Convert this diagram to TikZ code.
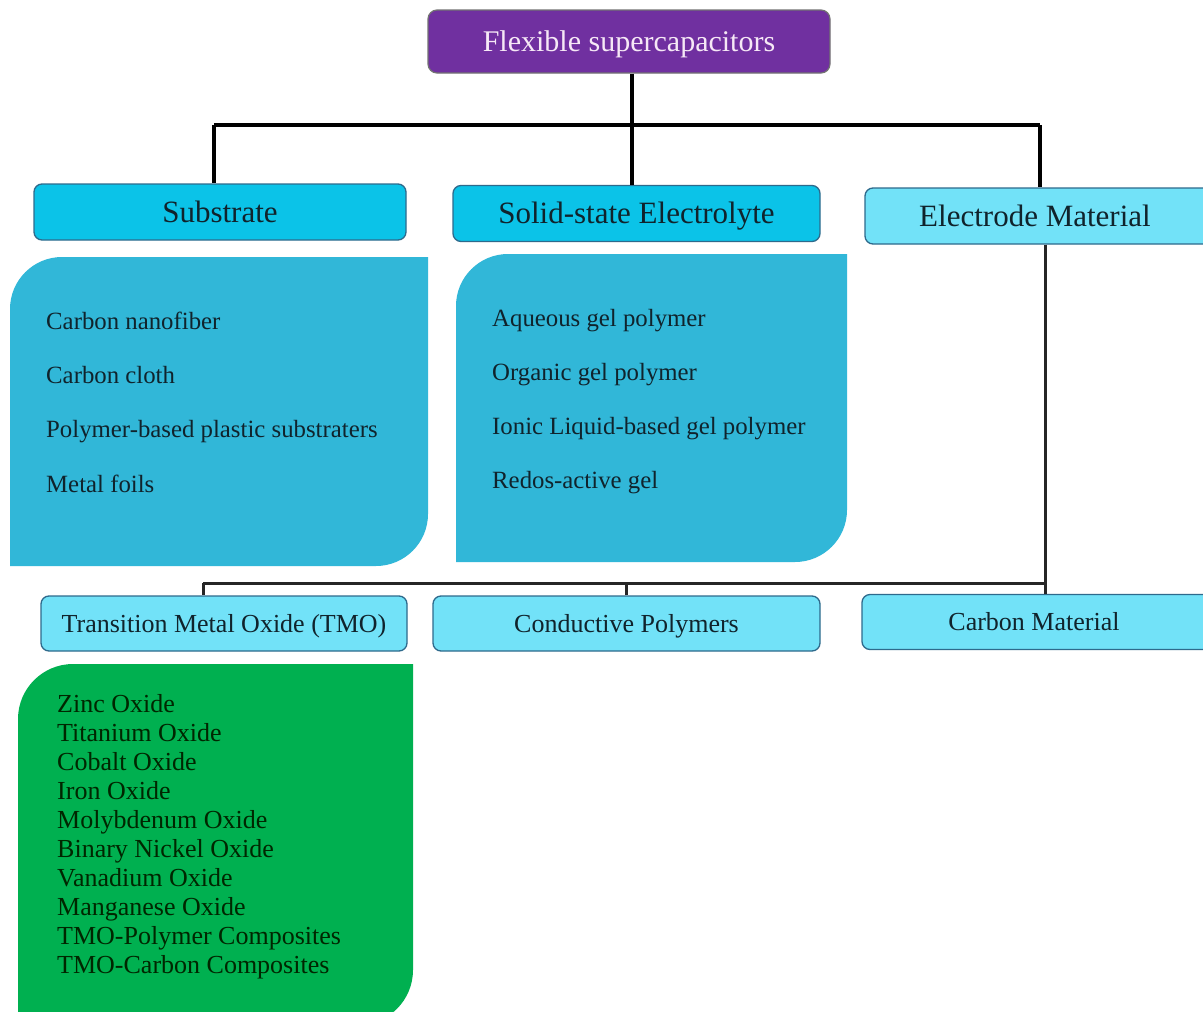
\documentclass[tikz,border=0pt]{standalone}
\usepackage{fontspec}
\setmainfont{Liberation Serif}
\definecolor{purplebox}{HTML}{7030A0}
\definecolor{cyanA}{HTML}{0BC3E8}
\definecolor{cyanB}{HTML}{72E2F8}
\definecolor{panelblue}{HTML}{31B7D8}
\definecolor{panelgreen}{HTML}{00B050}
\definecolor{boxborder}{HTML}{2E6A8C}
\definecolor{txtdark}{HTML}{10232C}
\definecolor{toptxt}{HTML}{F6E8F6}
\newcommand{\mypanel}[6]{%
  \fill[#1] (#2,#5) -- (#2,#3+#6) .. controls (#2,#3+0.448*#6) and (#2+0.448*#6,#3) .. (#2+#6,#3)
    -- (#4,#3) -- (#4,#5-#6) .. controls (#4,#5-0.448*#6) and (#4-0.448*#6,#5) .. (#4-#6,#5) -- cycle;}
\tikzset{
  topbox/.style={draw=black!55, line width=1.2pt, fill=purplebox, rounded corners=9pt,
    minimum width=402pt, minimum height=63pt, inner sep=0pt, text=toptxt,
    font=\fontsize{30}{36}\selectfont, text height=23pt, text depth=4pt},
  boxA/.style={draw=boxborder, line width=1.3pt, fill=cyanA, rounded corners=8pt,
    minimum height=56pt, inner sep=0pt, text=txtdark, font=\fontsize{31}{37}\selectfont,
    text height=24pt, text depth=4pt},
  boxB/.style={draw=boxborder, line width=1.3pt, fill=cyanB, rounded corners=8pt,
    minimum height=56pt, inner sep=0pt, text=txtdark, font=\fontsize{31}{37}\selectfont,
    text height=24pt, text depth=4pt},
  boxC/.style={draw=boxborder, line width=1.3pt, fill=cyanB, rounded corners=8pt,
    minimum height=55pt, inner sep=0pt, text=txtdark, font=\fontsize{26}{31}\selectfont,
    text height=20pt, text depth=3pt},
  item/.style={anchor=base west, inner sep=0pt, text=txtdark, font=\fontsize{24.8}{30}\selectfont},
  gitem/.style={anchor=base west, inner sep=0pt, text=black!85!green, font=\fontsize{26}{30}\selectfont},
  conn/.style={line width=3.3pt, draw=black},
  conn2/.style={line width=3pt, draw=black!85},
}
\begin{document}
\begin{tikzpicture}[x=1pt,y=-1pt]
\useasboundingbox (0,0) rectangle (1203,1012);
\clip (0,0) rectangle (1203,1012);
\fill[white] (0,0) rectangle (1203,1012);

% panels
\mypanel{panelblue}{10}{257}{428}{566}{52}
\mypanel{panelblue}{456}{254}{847}{562}{52}
\mypanel{panelgreen}{18}{664}{413}{1025}{55}

\coordinate (tw) at (214,125);
\coordinate (te) at (1040,125);
\coordinate (bw) at (203,583);
\coordinate (be) at (1045,583);

% boxes
\node[topbox] (top) at (629,41.5) {Flexible supercapacitors};
\node[boxA, minimum width=372pt] (sub) at (220,212) {Substrate};
\node[boxA, minimum width=367pt] (sse) at (636.5,213.5) {Solid-state Electrolyte};
\node[boxB, minimum width=346pt] (em) at (1038,216) {\hspace*{-6pt}Electrode Material};
\node[boxC, minimum width=366pt] (tmo) at (224,623.5) {Transition Metal Oxide (TMO)};
\node[boxC, minimum width=387pt] (cp) at (626.5,623.5) {Conductive Polymers};
\node[boxC, minimum width=356pt] (cm) at (1040,622) {\hspace*{-12pt}Carbon Material};

% connectors
\draw[conn] (top.south -| 632,0) -- (632,125);
\draw[conn] (tw) -- (te);
\draw[conn] (tw) -- (tw |- sub.north);
\draw[conn] (sse.north -| 632,0) -- (632,125);
\draw[conn] (te) -- (te |- em.north);
\draw[conn2] (em.south -| be) -- (be);
\draw[conn2] (be) -- (bw);
\draw[conn2] (bw) -- (bw |- tmo.north);
\draw[conn2] (cp.north) -- (cp.north |- bw);
\draw[conn2] (be) -- (be |- cm.north);

% substrate items
\node[item] (s1) at (46,329) {Carbon nanofiber};
\node[item] (s2) at (46,383) {Carbon cloth};
\node[item] (s3) at (46,437) {Polymer-based plastic substraters};
\node[item] (s4) at (46,492) {Metal foils};

% electrolyte items
\node[item] (e1) at (492,326) {Aqueous gel polymer};
\node[item] (e2) at (492,380) {Organic gel polymer};
\node[item] (e3) at (492,434) {Ionic Liquid-based gel polymer};
\node[item] (e4) at (492,488) {Redos-active gel};

% TMO items
\node[gitem] (g1) at (57,712) {Zinc Oxide};
\node[gitem] (g2) at (57,741.1) {Titanium Oxide};
\node[gitem] (g3) at (57,770.2) {Cobalt Oxide};
\node[gitem] (g4) at (57,799.3) {Iron Oxide};
\node[gitem] (g5) at (57,828.4) {Molybdenum Oxide};
\node[gitem] (g6) at (57,857.5) {Binary Nickel Oxide};
\node[gitem] (g7) at (57,886.6) {Vanadium Oxide};
\node[gitem] (g8) at (57,915.7) {Manganese Oxide};
\node[gitem] (g9) at (57,944.8) {TMO-Polymer Composites};
\node[gitem] (g10) at (57,973.9) {TMO-Carbon Composites};
\end{tikzpicture}
\end{document}
